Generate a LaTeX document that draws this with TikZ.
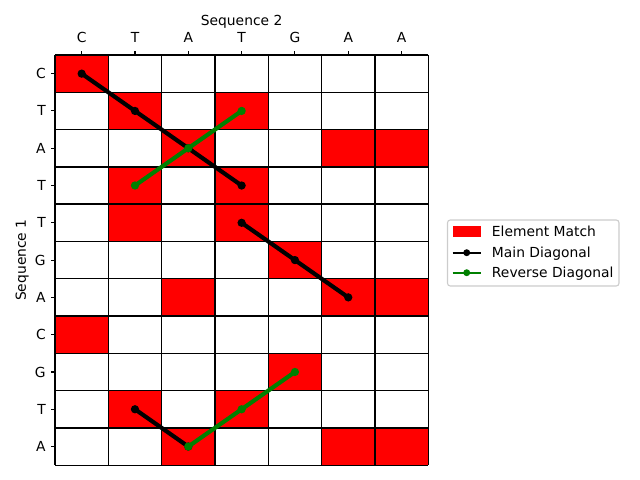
\documentclass[tikz,border=0pt]{standalone}
\usepackage{fontspec}
\setmainfont{DejaVu Sans}
\usetikzlibrary{positioning}

\definecolor{mplgreen}{HTML}{008000}
\definecolor{legendedge}{HTML}{CCCCCC}

\newcommand*{\ncols}{7}
\newcommand*{\nrows}{11}

\begin{document}
\begin{tikzpicture}
[
	x=0.5329in,y=-0.3727in,
	cellline/.style={black,line width=1pt},
	axistick/.style={black,line width=0.8pt},
	maindiag/.style={black,line width=3pt,line join=round},
	revdiag/.style={mplgreen,line width=3pt,line join=round},
	legline/.style={line width=1.5pt}
]

	% legend, in pixel units
	\begin{scope}[x=0.01in,y=-0.01in,shift={(-55,-55)}]
		\useasboundingbox (0,0) rectangle (640,480);
		\draw[legendedge,fill=white,rounded corners=2pt,line width=0.8pt] (447.5,220) rectangle (619,286);

		\fill[red] (452.7,226) rectangle (480.7,236.7);
		\node[anchor=base west,inner sep=0pt] (leg-match) at (491.7,236.7) {Element Match};

		\coordinate (lm-a) at (452.7,252.7);
		\coordinate (lm-b) at (480.7,252.7);
		\draw[legline,black] (lm-a) -- (lm-b);
		\fill[black] (466.7,252.7) circle[radius=2.5pt];
		\node[anchor=base west,inner sep=0pt] (leg-main) at (491.7,257.7) {Main Diagonal};

		\coordinate (lr-a) at (452.7,272.7);
		\coordinate (lr-b) at (480.7,272.7);
		\draw[legline,mplgreen] (lr-a) -- (lr-b);
		\fill[mplgreen] (466.7,272.7) circle[radius=2.5pt];
		\node[anchor=base west,inner sep=0pt] (leg-rev) at (491.7,277.7) {Reverse Diagonal};
	\end{scope}

	% matching cells
	\foreach \a [count=\r from 0] in {C,T,A,T,T,G,A,C,G,T,A}{
		\foreach \b [count=\c from 0] in {C,T,A,T,G,A,A}{
			\ifx\a\b
				\fill[red] (\c,\r) rectangle ++(1,1);
			\fi
			\coordinate (p-\c-\r) at (\c+0.5,\r+0.5);
		}
	}

	% grid
	\foreach \c in {0,...,\ncols}
		\draw[cellline] (\c,0) -- (\c,\nrows);
	\foreach \r in {0,...,\nrows}
		\draw[cellline] (0,\r) -- (\ncols,\r);

	% ticks and labels
	\foreach \b [count=\c from 0] in {C,T,A,T,G,A,A}{
		\draw[axistick] (\c+0.5,0) -- ++(0,-0.094);
		\node[anchor=base,inner sep=0pt] (col-\c) at (\c+0.5,-0.322) {\b};
	}
	\foreach \a [count=\r from 0] in {C,T,A,T,T,G,A,C,G,T,A}{
		\draw[axistick] (0,\r+0.5) -- ++(-0.066,0);
		\node[anchor=east,inner sep=0pt] (row-\r) at (-0.169,\r+0.5) {\a};
	}
	\node[anchor=base,inner sep=0pt] (seq2) at (3.5,-0.79) {Sequence 2};
	\node[rotate=90,anchor=base,inner sep=0pt] (seq1) at (-0.544,5.5) {Sequence 1};

	% main diagonals
	\draw[maindiag] (p-0-0) -- (p-1-1) -- (p-2-2) -- (p-3-3);
	\draw[maindiag] (p-3-4) -- (p-4-5) -- (p-5-6);
	\draw[maindiag] (p-1-9) -- (p-2-10);
	\foreach \p in {p-0-0,p-1-1,p-2-2,p-3-3,p-3-4,p-4-5,p-5-6,p-1-9,p-2-10}
		\fill[black] (\p) circle[radius=3pt];

	% reverse diagonals
	\draw[revdiag] (p-1-3) -- (p-2-2) -- (p-3-1);
	\draw[revdiag] (p-2-10) -- (p-3-9) -- (p-4-8);
	\foreach \p in {p-1-3,p-2-2,p-3-1,p-2-10,p-3-9,p-4-8}
		\fill[mplgreen] (\p) circle[radius=3pt];

\end{tikzpicture}
\end{document}
